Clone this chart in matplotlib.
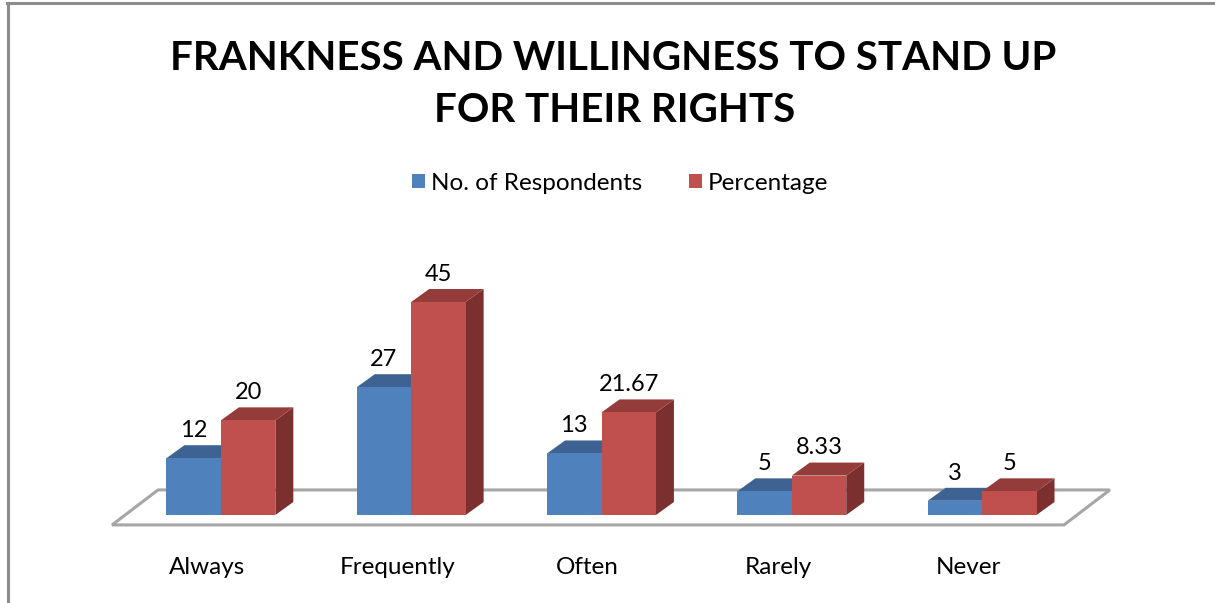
import numpy as np
import matplotlib.pyplot as plt
from matplotlib.patches import Polygon, Patch
from matplotlib.lines import Line2D

plt.rcParams["font.family"] = ["Lato", "DejaVu Sans"]

categories = ["Always", "Frequently", "Often", "Rarely", "Never"]
respondents = [12, 27, 13, 5, 3]
percentage = [20, 45, 21.67, 8.33, 5]
pct_labels = ["20", "45", "21.67", "8.33", "5"]
series_names = ["No. of Respondents", "Percentage"]

BLUE = ("#4F81BD", "#3E6392", "#385D8A")   # front, top, side
RED = ("#C0504D", "#943C3A", "#7B302F")

W_PX, H_PX = 1215, 603
fig = plt.figure(figsize=(W_PX / 100, H_PX / 100), dpi=100)

# axes placed so that the bars sit where the reference puts them
ax = fig.add_axes([125.75 / W_PX, (H_PX - 515) / H_PX, 951.5 / W_PX, 213 / H_PX])
ax.set_xlim(-0.5, 4.5)
ax.set_ylim(0, 45)
ax.axis("off")

x = np.arange(len(categories))
w = 54.5 / 190.5                  # bar width in category units
dx = 18 / 190.5                   # depth offset (x)
dy = 13 / (213 / 45)              # depth offset (y)

# floor
fdx, fdy = 46 / 190.5, 35 / (213 / 45)
f0, f1 = x[0] - 0.572, x[-1] + 0.43
fy = -2.1
floor = Polygon([(f0, fy), (f1, fy), (f1 + fdx, fy + fdy), (f0 + fdx, fy + fdy)],
                closed=True, facecolor="white", edgecolor="#A6A6A6",
                linewidth=2.2, clip_on=False, zorder=1)
ax.add_patch(floor)


def bar3d(left, vals, colors, z):
    front, top, side = colors
    for l, v in zip(left, vals):
        ax.add_patch(Polygon([(l + w, 0), (l + w + dx, dy), (l + w + dx, v + dy), (l + w, v)],
                             facecolor=side, edgecolor="none", clip_on=False, zorder=z))
        ax.add_patch(Polygon([(l, v), (l + w, v), (l + w + dx, v + dy), (l + dx, v + dy)],
                             facecolor=top, edgecolor="none", clip_on=False, zorder=z))
    ax.bar(left, vals, width=w, align="edge", color=front, zorder=z + 1, clip_on=False)


bar3d(x - w, respondents, BLUE, 2)
bar3d(x, percentage, RED, 4)

for xi, v in zip(x, respondents):
    ax.annotate(str(v), (xi - w / 2, v + dy), xytext=(0, 3),
                textcoords="offset points", ha="center", va="bottom", fontsize=17,
                annotation_clip=False)
for xi, v, lab in zip(x, percentage, pct_labels):
    ax.annotate(lab, (xi + w / 2, v + dy), xytext=(0, 3),
                textcoords="offset points", ha="center", va="bottom", fontsize=17,
                annotation_clip=False)

for xi, c in zip(x, categories):
    ax.annotate(c, (xi, 0), xytext=(-10, -38), textcoords="offset points",
                ha="center", va="center", fontsize=17.5, annotation_clip=False)

fig.text(613 / W_PX, 1 - 58 / H_PX, "FRANKNESS AND WILLINGNESS TO STAND UP",
         ha="center", va="center", fontsize=29, fontweight="bold")
fig.text(615 / W_PX, 1 - 111 / H_PX, "FOR THEIR RIGHTS",
         ha="center", va="center", fontsize=29, fontweight="bold")

handles = [Patch(facecolor=BLUE[0]), Patch(facecolor=RED[0])]
fig.legend(handles, series_names, loc="center", bbox_to_anchor=(620 / W_PX, 1 - 183 / H_PX),
           ncol=2, frameon=False, fontsize=17.5, handlelength=0.55, handleheight=0.55,
           handletextpad=0.25, columnspacing=1.9)

# chart border (top and left edges visible)
fig.add_artist(Line2D([7 / W_PX, 1], [1 - 3 / H_PX, 1 - 3 / H_PX], color="#8C8C8C", lw=2.2))
fig.add_artist(Line2D([8 / W_PX, 8 / W_PX], [0, 1 - 3 / H_PX], color="#8C8C8C", lw=2.2))

fig.savefig("out.png", dpi=100)
